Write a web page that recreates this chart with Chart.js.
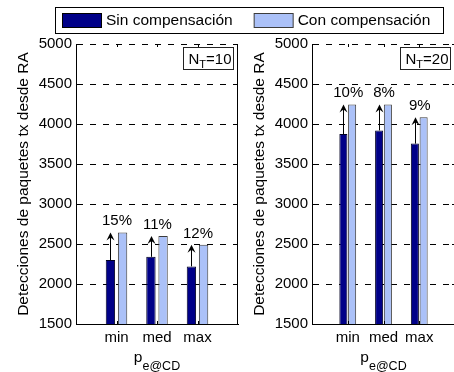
<!DOCTYPE html>
<html>
<head>
<meta charset="utf-8">
<script src="https://cdn.jsdelivr.net/npm/chart.js@4.4.1/dist/chart.umd.min.js"></script>
<style>
  html, body { margin: 0; padding: 0; background: #fff; overflow: hidden; }
  #wrap { position: relative; width: 454px; height: 372px; overflow: hidden; }
  #wrap canvas { position: absolute; top: 0; left: 0; }
</style>
</head>
<body>
<div id="wrap">
  <canvas id="panelA" width="454" height="372"></canvas>
  <canvas id="panelB" width="460" height="372"></canvas>
</div>
<script>
// Packet detections per detection-error level, with and without compensation
const categories  = ['min', 'med', 'max'];
const seriesNames = ['Sin compensación', 'Con compensación'];
const sinNT10 = [2300, 2340, 2220];
const conNT10 = [2645, 2600, 2490];
const sinNT20 = [3875, 3920, 3755];
const conNT20 = [4245, 4245, 4085];
const nTags   = ['10', '20'];
const yTicks  = [1500, 2000, 2500, 3000, 3500, 4000, 4500, 5000];
const yTitle  = 'Detecciones de paquetes tx desde RA';
const xTitleMain = 'p';
const xTitleSub  = 'e@CD';

const DARK = '#000088';
const LIGHT = '#abc1f8';
const EDGE = '#3c3c3c';
const FAM = '"Liberation Sans", Arial, Helvetica, sans-serif';
const tickFont = { family: FAM, size: 15 };
const titleFont = { family: FAM, size: 15.5 };

// frame, inward ticks, gain arrows, percentage labels, N_T tag and x title
function panelDecor(sin, con, tag) {
  return {
    id: 'panelDecor',
    afterDatasetsDraw(chart) {
      const ctx = chart.ctx;
      const xs = chart.scales.x, ys = chart.scales.y;
      const darkMeta = chart.getDatasetMeta(0);
      ctx.save();
      // gain arrows from the uncompensated value up to the compensated one
      ctx.strokeStyle = '#000';
      ctx.fillStyle = '#000';
      ctx.lineWidth = 1;
      for (let i = 0; i < categories.length; i++) {
        const bar = darkMeta.data[i + 1];
        const x = Math.round(bar.x) + 0.5;
        const y0 = ys.getPixelForValue(sin[i]);
        const y1 = ys.getPixelForValue(con[i]);
        ctx.beginPath();
        ctx.moveTo(x, y0);
        ctx.lineTo(x, y1 + 3);
        ctx.stroke();
        ctx.beginPath();
        ctx.moveTo(x, y1);
        ctx.lineTo(x - 4, y1 + 8);
        ctx.lineTo(x, y1 + 5);
        ctx.lineTo(x + 4, y1 + 8);
        ctx.closePath();
        ctx.fill();
        // percentage gain label
        const pct = Math.round((con[i] / sin[i] - 1) * 100) + '%';
        ctx.font = `${tickFont.size}px ${FAM}`;
        ctx.textAlign = 'center';
        ctx.textBaseline = 'alphabetic';
        ctx.fillText(pct, xs.getPixelForValue(i + 1) + 0.5, y1 - 7);
      }
      ctx.restore();
    },
    afterDraw(chart) {
      const ctx = chart.ctx;
      const xs = chart.scales.x, ys = chart.scales.y;
      const a = chart.chartArea;
      ctx.save();
      ctx.strokeStyle = '#000';
      ctx.lineWidth = 1;
      // right edge of the axes box
      const rx = Math.round(a.right) - 0.5;
      ctx.beginPath();
      ctx.moveTo(rx, Math.round(a.top));
      ctx.lineTo(rx, Math.round(a.bottom) + 0.5);
      ctx.stroke();
      // inward tick marks
      ctx.beginPath();
      for (let i = 0; i < categories.length; i++) {
        const x = Math.round(xs.getPixelForValue(i + 1)) + 0.5;
        ctx.moveTo(x, a.top); ctx.lineTo(x, a.top + 3);
        ctx.moveTo(x, a.bottom); ctx.lineTo(x, a.bottom - 3);
      }
      for (const v of yTicks) {
        const y = Math.round(ys.getPixelForValue(v)) + 0.5;
        ctx.moveTo(a.left, y); ctx.lineTo(a.left + 3, y);
        ctx.moveTo(a.right, y); ctx.lineTo(a.right - 3, y);
      }
      ctx.stroke();

      // N_T tag box in the upper right corner
      const bw = 50, bh = 22;
      const bx = Math.round(a.right) - 5 - bw + 0.5;
      const by = Math.round(a.top) + 3 + 0.5;
      ctx.fillStyle = '#fff';
      ctx.fillRect(bx, by, bw, bh);
      ctx.strokeStyle = '#222';
      ctx.strokeRect(bx, by, bw, bh);
      ctx.fillStyle = '#000';
      ctx.textAlign = 'left';
      ctx.textBaseline = 'alphabetic';
      const base = by + 16.5;
      let tx = bx + 5;
      ctx.font = `${tickFont.size}px ${FAM}`;
      ctx.fillText('N', tx, base);
      tx += ctx.measureText('N').width;
      ctx.font = `11px ${FAM}`;
      ctx.fillText('T', tx, base + 4);
      tx += ctx.measureText('T').width;
      ctx.font = `${tickFont.size}px ${FAM}`;
      ctx.fillText('=' + tag, tx, base);

      // x axis title with subscript
      ctx.font = `${titleFont.size}px ${FAM}`;
      const wMain = ctx.measureText(xTitleMain).width;
      ctx.font = `12.5px ${FAM}`;
      const wSub = ctx.measureText(xTitleSub).width;
      const cx = (a.left + a.right) / 2;
      const px = cx - (wMain + wSub) / 2;
      ctx.font = `${titleFont.size}px ${FAM}`;
      ctx.fillText(xTitleMain, px, 362);
      ctx.font = `12.5px ${FAM}`;
      ctx.fillText(xTitleSub, px + wMain, 369.5);
      ctx.restore();
    }
  };
}

// shared legend across the top of the figure
const figureLegend = {
  id: 'figureLegend',
  afterDraw(chart) {
    const ctx = chart.ctx;
    ctx.save();
    ctx.lineWidth = 1;
    ctx.strokeStyle = '#000';
    ctx.fillStyle = '#fff';
    ctx.fillRect(55.5, 7.5, 388, 26);
    ctx.strokeRect(55.5, 7.5, 388, 26);
    ctx.font = `${titleFont.size}px ${FAM}`;
    ctx.textBaseline = 'middle';
    ctx.textAlign = 'left';
    const fills = [DARK, LIGHT];
    const edges = ['#000', EDGE];
    let x = 62;
    seriesNames.forEach((name, i) => {
      ctx.fillStyle = fills[i];
      ctx.fillRect(x + 0.5, 13.5, 39, 14);
      ctx.strokeStyle = edges[i];
      ctx.strokeRect(x + 0.5, 13.5, 39, 14);
      ctx.fillStyle = '#000';
      ctx.fillText(name, x + 44, 21);
      x += 44 + ctx.measureText(name).width + 21;
    });
    ctx.restore();
  }
};

function makePanel(canvasId, sin, con, tag, padLeft, padRight, catPct, barPct, extraPlugins) {
  const labels = [''].concat(categories, ['']);
  const pad = arr => [null].concat(arr, [null]);
  return new Chart(document.getElementById(canvasId), {
    type: 'bar',
    data: {
      labels: labels,
      datasets: [
        { label: seriesNames[0], data: pad(sin), backgroundColor: DARK, borderColor: '#000022', borderWidth: 1,
          categoryPercentage: catPct, barPercentage: barPct },
        { label: seriesNames[1], data: pad(con), backgroundColor: LIGHT, borderColor: EDGE, borderWidth: 1,
          categoryPercentage: catPct, barPercentage: barPct }
      ]
    },
    options: {
      responsive: false,
      animation: false,
      devicePixelRatio: 1,
      layout: { padding: { left: padLeft, right: padRight, top: 44, bottom: 0 } },
      plugins: { legend: { display: false }, tooltip: { enabled: false } },
      scales: {
        x: {
          type: 'category',
          offset: false,
          grid: { display: false, drawTicks: false },
          border: { display: true, color: '#000', width: 1 },
          ticks: { font: tickFont, color: '#000', padding: 5, maxRotation: 0, autoSkip: false },
          afterFit(s) { s.height = 48; }
        },
        y: {
          min: 1500,
          max: 5000,
          afterBuildTicks(s) { s.ticks = yTicks.map(v => ({ value: v })); },
          grid: {
            drawTicks: false,
            lineWidth: 1,
            color: c => (c.tick && c.tick.value === 1500) ? 'rgba(0,0,0,0)' : '#000'
          },
          border: { display: true, color: '#000', width: 1, dash: [6, 7] },
          ticks: { font: tickFont, color: '#000', padding: 4, callback: v => String(v) },
          title: { display: true, text: yTitle, font: titleFont, color: '#000', padding: { top: 14, bottom: 0 } },
          afterFit(s) { s.width = 76; }
        }
      }
    },
    plugins: [panelDecor(sin, con, tag)].concat(extraPlugins)
  });
}

makePanel('panelA', sinNT10, conNT10, nTags[0], 0, 216, 0.6, 0.77, [figureLegend]);
makePanel('panelB', sinNT20, conNT20, nTags[1], 236, 5, 0.49, 0.92, []);
</script>
</body>
</html>
